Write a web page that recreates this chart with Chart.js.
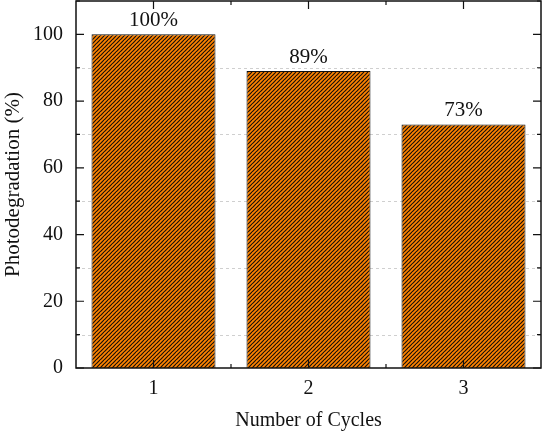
<!DOCTYPE html>
<html>
<head>
<meta charset="utf-8">
<script src="https://cdn.jsdelivr.net/npm/chart.js@4.4.1/dist/chart.umd.min.js"></script>
<style>
  html, body { margin: 0; padding: 0; background: #fff; }
  canvas { display: block; }
</style>
</head>
<body>
<canvas id="cycles-chart" width="543" height="438"></canvas>
<script>
// values
var cycles = ["1", "2", "3"];
var degradation = [100, 89, 73];
var barLabels = ["100%", "89%", "73%"];
var yLabelled = [0, 20, 40, 60, 80, 100];

var serif = "'Liberation Serif', 'Times New Roman', serif";

// orange with black "/" hatching, 4px period
function hatchPattern(ctx) {
    var tile = document.createElement('canvas');
    tile.width = 4;
    tile.height = 4;
    var tctx = tile.getContext('2d');
    tctx.fillStyle = '#ff8400';
    tctx.fillRect(0, 0, 4, 4);
    tctx.strokeStyle = '#1a1008';
    tctx.lineWidth = 1.2;
    for (var k = -4; k <= 8; k += 4) {
        tctx.beginPath();
        tctx.moveTo(k - 4, 8);
        tctx.lineTo(k + 4, 0);
        tctx.stroke();
    }
    return ctx.createPattern(tile, 'repeat');
}

function noPadding(scale) {
    scale.paddingTop = 0;
    scale.paddingBottom = 0;
    scale.paddingLeft = 0;
    scale.paddingRight = 0;
}

// dashed grid at the odd tens, behind the bars
var gridPlugin = {
    id: 'gridPlugin',
    beforeDatasetsDraw: function(chart) {
        var ctx = chart.ctx, area = chart.chartArea, ys = chart.scales.y;
        ctx.save();
        ctx.strokeStyle = '#cfcfcf';
        ctx.lineWidth = 1;
        ctx.setLineDash([3, 3]);
        ys.ticks.forEach(function(t) {
            if (t.value % 20 === 10 && t.value < ys.max) {
                var py = Math.round(ys.getPixelForValue(t.value)) + 0.5;
                ctx.beginPath();
                ctx.moveTo(area.left, py);
                ctx.lineTo(area.right, py);
                ctx.stroke();
            }
        });
        ctx.restore();
    }
};

// box frame, inward ticks on all four sides, value labels over bars
var framePlugin = {
    id: 'framePlugin',
    afterDatasetsDraw: function(chart) {
        var ctx = chart.ctx, area = chart.chartArea;
        var xs = chart.scales.x, ys = chart.scales.y;
        ctx.save();
        ctx.strokeStyle = '#111';
        ctx.lineWidth = 1.5;
        ctx.strokeRect(area.left, area.top, area.right - area.left, area.bottom - area.top);

        ctx.lineWidth = 1.2;
        ys.ticks.forEach(function(t) {
            var py = ys.getPixelForValue(t.value);
            var len = (t.value % 20 === 0) ? 8 : 4;
            ctx.beginPath();
            ctx.moveTo(area.left, py); ctx.lineTo(area.left + len, py);
            ctx.moveTo(area.right, py); ctx.lineTo(area.right - len, py);
            ctx.stroke();
        });
        var step = xs.getPixelForValue(1) - xs.getPixelForValue(0);
        cycles.forEach(function(c, i) {
            var px = xs.getPixelForValue(i);
            ctx.beginPath();
            ctx.moveTo(px, area.bottom); ctx.lineTo(px, area.bottom - 8);
            ctx.moveTo(px, area.top); ctx.lineTo(px, area.top + 8);
            ctx.stroke();
            if (i < cycles.length - 1) {
                var mx = px + step / 2;
                ctx.beginPath();
                ctx.moveTo(mx, area.bottom); ctx.lineTo(mx, area.bottom - 4);
                ctx.moveTo(mx, area.top); ctx.lineTo(mx, area.top + 4);
                ctx.stroke();
            }
        });

        ctx.fillStyle = '#111';
        ctx.font = '21px ' + serif;
        ctx.textAlign = 'center';
        ctx.textBaseline = 'alphabetic';
        chart.getDatasetMeta(0).data.forEach(function(bar, i) {
            ctx.fillText(barLabels[i], bar.x, bar.y - 8);
        });
        ctx.restore();
    }
};

var canvas = document.getElementById('cycles-chart');
var ctx = canvas.getContext('2d');

var cyclesChart = new Chart(ctx, {
    type: 'bar',
    data: {
        labels: cycles,
        datasets: [{
            data: degradation,
            backgroundColor: hatchPattern(ctx),
            borderColor: '#111',
            borderWidth: 1,
            barPercentage: 0.8,
            categoryPercentage: 1.0
        }]
    },
    options: {
        responsive: false,
        devicePixelRatio: 1,
        animation: false,
        layout: { padding: { top: 1, right: 2, left: 0, bottom: 0 } },
        plugins: {
            legend: { display: false },
            tooltip: { enabled: false }
        },
        scales: {
            x: {
                offset: true,
                grid: { display: false, drawTicks: false },
                border: { display: false },
                ticks: {
                    color: '#111',
                    padding: 9,
                    font: { family: serif, size: 20 }
                },
                title: {
                    display: true,
                    text: 'Number of Cycles',
                    color: '#111',
                    padding: { top: 0, bottom: 5 },
                    font: { family: serif, size: 20 }
                },
                afterFit: function(scale) { scale.height = 70; noPadding(scale); }
            },
            y: {
                min: 0,
                max: 110,
                grid: { display: false, drawTicks: false },
                border: { display: false },
                ticks: {
                    stepSize: 10,
                    color: '#111',
                    padding: 13,
                    font: { family: serif, size: 20 },
                    callback: function(v) {
                        return yLabelled.indexOf(v) >= 0 ? v : '';
                    }
                },
                title: {
                    display: true,
                    text: 'Photodegradation (%)',
                    color: '#111',
                    padding: { top: 1, bottom: 0 },
                    font: { family: serif, size: 21 }
                },
                afterFit: function(scale) { scale.width = 76; noPadding(scale); }
            }
        }
    },
    plugins: [gridPlugin, framePlugin]
});
</script>
</body>
</html>
